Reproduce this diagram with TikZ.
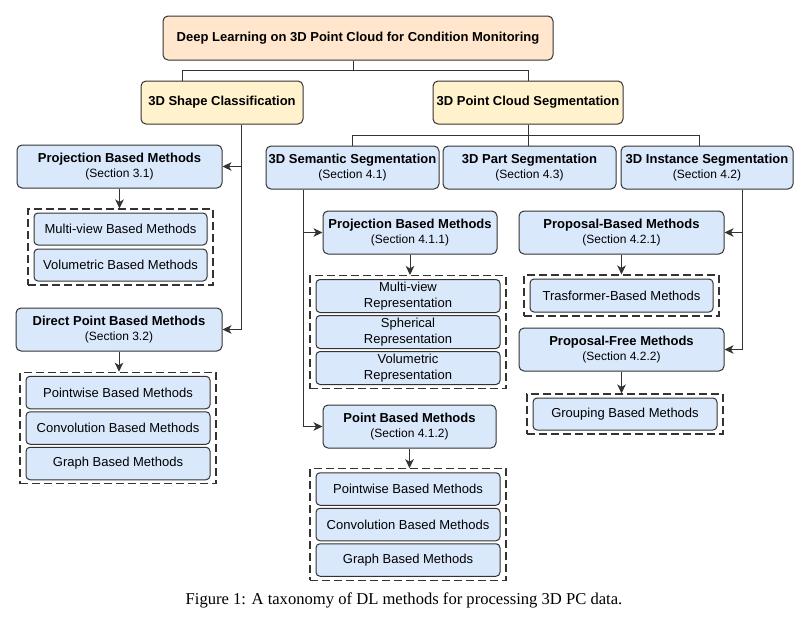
\documentclass[tikz,border=0pt]{standalone}
\usepackage{fontspec}
\setmainfont{Liberation Serif}
\setsansfont{Liberation Sans}
\usetikzlibrary{positioning,arrows.meta,fit}
\definecolor{rootfill}{HTML}{FFE6CC}
\definecolor{catfill}{HTML}{FFF2CC}
\definecolor{boxfill}{HTML}{DAE8FC}
\definecolor{edge}{HTML}{333333}
\newcommand{\sectxt}[1]{{\fontsize{12}{14}\selectfont (Section #1)}}

\begin{document}
\begin{tikzpicture}[
  x=1pt, y=-1pt,
  font=\sffamily\fontsize{13}{15.5}\selectfont,
  >={Stealth[length=9pt,width=8.5pt,inset=2.5pt]},
  box/.style={draw=edge, line width=1pt, rounded corners=5pt, fill=boxfill,
              align=center, inner sep=1pt},
  top/.style={box, fill=rootfill, font=\sffamily\bfseries\fontsize{13}{15.5}\selectfont,
              minimum height=44pt},
  cat/.style={box, fill=catfill, font=\sffamily\bfseries\fontsize{13}{15.5}\selectfont,
              minimum height=43pt},
  meth/.style={box, minimum height=43pt},
  item/.style={box, rounded corners=4pt, minimum height=33pt, minimum width=184pt},
  grp/.style={draw=edge, line width=1.1pt, dash pattern=on 8pt off 4pt,
              inner xsep=5.5pt, inner ysep=3.5pt},
  link/.style={draw=edge, line width=1pt},
  node distance=2pt,
]
\path[use as bounding box, fill=white] (0,0) rectangle (809,627);

\node[top, minimum width=390pt] (root) at (358,38)
     {Deep Learning on 3D Point Cloud for Condition Monitoring};
\node[cat, minimum width=162pt] (shape) at (222,102.5) {3D Shape Classification};
\node[cat, minimum width=190pt] (pcseg) at (528,102.5) {3D Point Cloud Segmentation};

% shape classification
\node[meth, minimum width=205pt] (proj31) at (119.5,166.5)
     {\textbf{Projection Based Methods}\\\sectxt{3.1}};
\node[item, minimum width=173pt, minimum height=32pt] (mv) at (120.5,229) {Multi-view Based Methods};
\node[item, minimum width=173pt, minimum height=32pt, below=3pt of mv] (vol) {Volumetric Based Methods};
\node[grp, fit=(mv)(vol)] (g31) {};
\node[meth, minimum width=206pt] (direct) at (119,329.5)
     {\textbf{Direct Point Based Methods}\\\sectxt{3.2}};
\node[item, minimum height=32.5pt] (pw1) at (118,392.5) {Pointwise Based Methods};
\node[item, minimum height=32.5pt, below=of pw1] (conv1) {Convolution Based Methods};
\node[item, minimum height=32.5pt, below=of conv1] (graph1) {Graph Based Methods};
\node[grp, fit=(pw1)(graph1)] (g32) {};

% segmentation
\node[meth, minimum width=173pt] (sem) at (352.5,167.5)
     {\textbf{3D Semantic Segmentation}\\\sectxt{4.1}};
\node[meth, minimum width=173pt] (part) at (529.5,167.5)
     {\textbf{3D Part Segmentation}\\\sectxt{4.3}};
\node[meth, minimum width=172pt] (inst) at (707,167.5)
     {\textbf{3D Instance Segmentation}\\\sectxt{4.2}};

\node[meth, minimum width=174pt] (proj411) at (410,232.5)
     {\textbf{Projection Based Methods}\\\sectxt{4.1.1}};
\node[item] (mvr) at (408,296) {Multi-view\\Representation};
\node[item, below=of mvr] (sph) {Spherical\\Representation};
\node[item, below=of sph] (volr) {Volumetric\\Representation};
\node[grp, fit=(mvr)(volr)] (g411) {};

\node[meth, minimum width=173pt] (point412) at (409.5,426.5)
     {\textbf{Point Based Methods}\\\sectxt{4.1.2}};
\node[item, minimum height=32.5pt] (pw2) at (408,489) {Pointwise Based Methods};
\node[item, minimum height=32.5pt, below=of pw2] (conv2) {Convolution Based Methods};
\node[item, minimum height=32.5pt, below=of conv2] (graph2) {Graph Based Methods};
\node[grp, fit=(pw2)(graph2)] (g412) {};

\node[meth, minimum width=205pt] (propB) at (621.5,232.5)
     {\textbf{Proposal-Based Methods}\\\sectxt{4.2.1}};
\node[item, minimum width=183pt] (trans) at (621.5,295.5) {Trasformer-Based Methods};
\node[grp, fit=(trans)] (g421) {};
\node[meth, minimum width=205pt] (propF) at (621.5,349.5)
     {\textbf{Proposal-Free Methods}\\\sectxt{4.2.2}};
\node[item, minimum height=32pt] (grouping) at (625,414) {Grouping Based Methods};
\node[grp, fit=(grouping)] (g422) {};

\node[font=\rmfamily\fontsize{16.6}{19}\selectfont] (cap) at (404,600)
     {Figure 1: A taxonomy of DL methods for processing 3D PC data.};

% connectors
\draw[link] ([xshift=-5pt]root.south) -- ++(0,10) -| ([xshift=-40pt]shape.north);
\draw[link] ([xshift=-5pt]root.south) -- ++(0,10) -| (pcseg.north);
\draw[link, ->] ([xshift=19pt]shape.south) |- (proj31.east);
\draw[link, ->] ([xshift=19pt]shape.south) |- (direct.east);
\draw[link, ->] (proj31.south) -- (proj31.south |- g31.north);
\draw[link, ->] (direct.south) -- (direct.south |- g32.north);

\draw[link] (pcseg.south) -- ++(0,11) -| (sem.north);
\draw[link] (pcseg.south) -- ++(0,11) -| ([xshift=-8pt]inst.north);
\draw[link] (pcseg.south) -- (pcseg.south |- part.north);
\draw[link, ->] ([xshift=-49.5pt]sem.south) |- (proj411.west);
\draw[link, ->] ([xshift=-49.5pt]sem.south) |- (point412.west);
\draw[link, ->] (proj411.south) -- (proj411.south |- g411.north);
\draw[link, ->] (point412.south) -- (point412.south |- g412.north);
\draw[link, ->] ([xshift=35pt]inst.south) |- (propB.east);
\draw[link, ->] ([xshift=35pt]inst.south) |- (propF.east);
\draw[link, ->] (propB.south) -- (propB.south |- g421.north);
\draw[link, ->] (propF.south) -- (propF.south |- g422.north);
\end{tikzpicture}
\end{document}
